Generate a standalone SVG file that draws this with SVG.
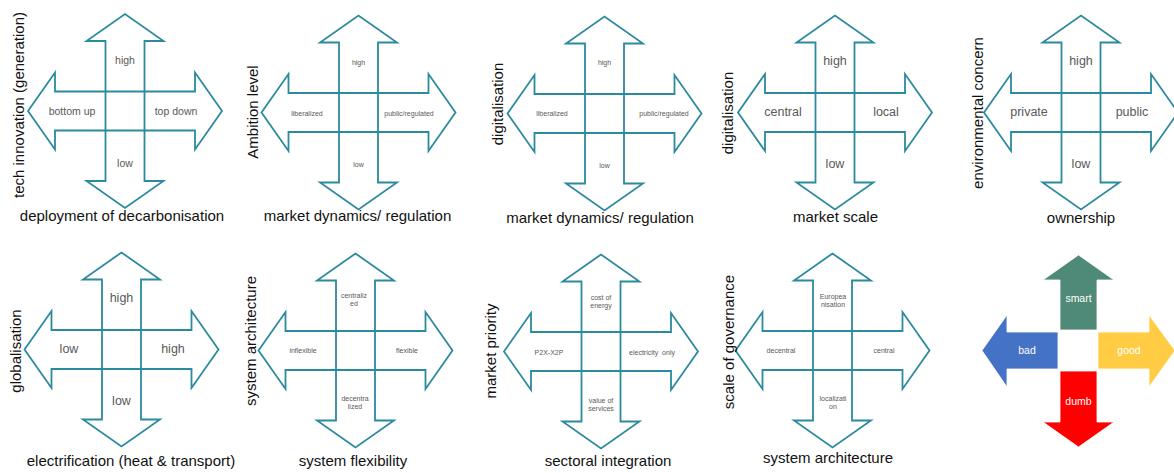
<svg xmlns="http://www.w3.org/2000/svg" xmlns:xlink="http://www.w3.org/1999/xlink" width="1174" height="473" viewBox="0 0 1174 473">
<style>
  .ar { fill: #ffffff; stroke: #2B8A9E; stroke-width: 1.8; stroke-linejoin: miter; }
  text { font-family: "Liberation Sans", Arial, sans-serif; }
  .ax { font-size: 15px; fill: #111111; text-anchor: middle; }
  .vx { font-size: 15px; fill: #111111; text-anchor: middle; dominant-baseline: central; }
  .in { fill: #595959; text-anchor: middle; dominant-baseline: central; }
  .s7 { font-size: 7px; }
  .s10 { font-size: 10.5px; }
  .s12 { font-size: 12.5px; }
  .wt { fill: #ffffff; font-size: 10.5px; text-anchor: middle; dominant-baseline: central; }
</style>
<defs>
  <g id="cross">
    <polygon class="ar" points="-19.5,-19.5 -19.5,-70 -38.5,-70 0,-97 38.5,-70 19.5,-70 19.5,-19.5"/>
    <polygon class="ar" points="-19.5,19.5 -19.5,70 -38.5,70 0,97 38.5,70 19.5,70 19.5,19.5"/>
    <polygon class="ar" points="-19.5,-19.5 -70,-19.5 -70,-38.5 -97,0 -70,38.5 -70,19.5 -19.5,19.5"/>
    <polygon class="ar" points="19.5,-19.5 70,-19.5 70,-38.5 97,0 70,38.5 70,19.5 19.5,19.5"/>
  </g>
</defs>
<g id="connectors"></g>

<g id="n1">
  <use href="#cross" x="125" y="111"/>
  <text class="in s10" x="125" y="60">high</text>
  <text class="in s10" x="72" y="111">bottom up</text>
  <text class="in s10" x="176" y="111">top down</text>
  <text class="in s10" x="125" y="163">low</text>
  <text class="ax" x="122" y="221">deployment of decarbonisation</text>
  <text class="vx" transform="translate(18,105) rotate(-90)">tech innovation (generation)</text>
</g>

<g id="n2">
  <use href="#cross" x="358.5" y="112.5"/>
  <text class="in s7" x="358.5" y="62">high</text>
  <text class="in s7" x="307" y="113">liberalized</text>
  <text class="in s7" x="409" y="113">public/regulated</text>
  <text class="in s7" x="358.5" y="164">low</text>
  <text class="ax" x="357.5" y="221">market dynamics/ regulation</text>
  <text class="vx" transform="translate(252,112) rotate(-90)">Ambition level</text>
</g>

<g id="n3">
  <use href="#cross" x="604.5" y="113.5"/>
  <text class="in s7" x="604.5" y="62">high</text>
  <text class="in s7" x="552" y="113">liberalized</text>
  <text class="in s7" x="664" y="113">public/regulated</text>
  <text class="in s7" x="604.5" y="165">low</text>
  <text class="ax" x="600" y="223">market dynamics/ regulation</text>
  <text class="vx" transform="translate(497,104) rotate(-90)">digitalisation</text>
</g>

<g id="n4">
  <use href="#cross" x="835" y="112.5"/>
  <text class="in s12" x="835" y="61">high</text>
  <text class="in s12" x="783" y="112">central</text>
  <text class="in s12" x="886" y="112">local</text>
  <text class="in s12" x="835" y="164">low</text>
  <text class="ax" x="835.5" y="222">market scale</text>
  <text class="vx" transform="translate(727,113) rotate(-90)">digitalisation</text>
</g>

<g id="n5">
  <use href="#cross" x="1081" y="112.5"/>
  <text class="in s12" x="1081" y="61">high</text>
  <text class="in s12" x="1029" y="112">private</text>
  <text class="in s12" x="1132" y="112">public</text>
  <text class="in s12" x="1081" y="164">low</text>
  <text class="ax" x="1081" y="222.5">ownership</text>
  <text class="vx" transform="translate(977,113) rotate(-90)">environmental concern</text>
</g>

<g id="n6">
  <use href="#cross" x="121.5" y="349.5"/>
  <text class="in s12" x="121.5" y="298">high</text>
  <text class="in s12" x="69" y="349">low</text>
  <text class="in s12" x="173" y="349">high</text>
  <text class="in s12" x="121.5" y="401">low</text>
  <text class="ax" x="131" y="466">electrification (heat &amp; transport)</text>
  <text class="vx" transform="translate(15,351) rotate(-90)">globalisation</text>
</g>

<g id="n7">
  <use href="#cross" x="355.5" y="350.5"/>
  <text class="in s7" x="354" y="295">centraliz</text>
  <text class="in s7" x="354" y="303">ed</text>
  <text class="in s7" x="303" y="350">inflexible</text>
  <text class="in s7" x="407" y="350">flexible</text>
  <text class="in s7" x="355" y="398">decentra</text>
  <text class="in s7" x="355" y="406">lized</text>
  <text class="ax" x="353" y="466">system flexibility</text>
  <text class="vx" transform="translate(250,341) rotate(-90)">system architecture</text>
</g>

<g id="n8">
  <use href="#cross" x="601" y="351.5"/>
  <text class="in s7" x="601" y="297">cost of</text>
  <text class="in s7" x="601" y="305">energy</text>
  <text class="in s7" x="549" y="352">P2X-X2P</text>
  <text class="in s7" x="652" y="352" xml:space="preserve">electricity  only</text>
  <text class="in s7" x="601" y="400">value of</text>
  <text class="in s7" x="601" y="408">services</text>
  <text class="ax" x="608" y="466">sectoral integration</text>
  <text class="vx" transform="translate(490,351) rotate(-90)">market priority</text>
</g>

<g id="n9">
  <use href="#cross" x="832.5" y="350.5"/>
  <text class="in s7" x="833" y="296">Europea</text>
  <text class="in s7" x="833" y="304">nisation</text>
  <text class="in s7" x="781" y="350">decentral</text>
  <text class="in s7" x="884" y="350">central</text>
  <text class="in s7" x="833" y="398">localizati</text>
  <text class="in s7" x="833" y="406">on</text>
  <text class="ax" x="828" y="463">system architecture</text>
  <text class="vx" transform="translate(728,342) rotate(-90)">scale of governance</text>
</g>

<g id="legend">
  <polygon fill="#4E8A77" stroke="#ffffff" stroke-width="0.8" points="1060,330 1060,280 1043,280 1078.5,255 1114,280 1097,280 1097,330"/>
  <polygon fill="#FF0000" stroke="#ffffff" stroke-width="0.8" points="1060,371 1060,422 1043,422 1078.5,447 1114,422 1097,422 1097,371"/>
  <polygon fill="#4472C4" stroke="#ffffff" stroke-width="0.8" points="1058,332 1007,332 1007,315 982,350.5 1007,387 1007,369 1058,369"/>
  <polygon fill="#FFCC44" stroke="#ffffff" stroke-width="0.8" points="1098,332 1149,332 1149,315 1175,350.5 1149,387 1149,369 1098,369"/>
  <text class="wt" x="1078.5" y="298">smart</text>
  <text class="wt" x="1027" y="350">bad</text>
  <text class="wt" x="1129" y="350">good</text>
  <text class="wt" x="1078.5" y="401">dumb</text>
</g>
</svg>
